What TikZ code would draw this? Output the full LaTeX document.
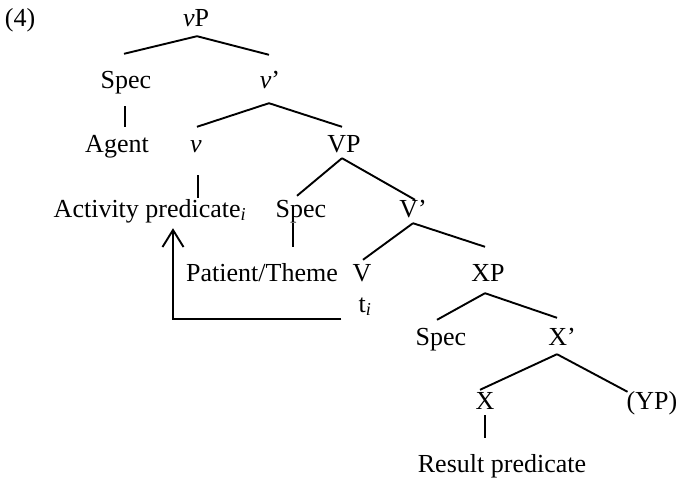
\documentclass[tikz,border=0pt]{standalone}
\usepackage{fontspec}
\setmainfont{Liberation Serif}
\usetikzlibrary{arrows.meta}
\tikzset{treenode/.style={anchor=base, inner sep=0pt, font=\fontsize{26}{30}\selectfont},branch/.style={draw=black, line width=1.9pt}}
\newcommand{\tsub}[1]{\textsubscript{\textit{#1}}}
\begin{document}
\begin{tikzpicture}[
        line join=miter,
        movearrow/.style={draw=black, line width=1.9pt, -{Straight Barb[length=17pt, width=21pt, line width=1.9pt]}}
    ]
        \useasboundingbox (0pt, 0pt) rectangle (679pt, 480pt);
        % Nodes
        \node[treenode] (ex) at (20pt, 453pt) {(4)\strut};
        \node[treenode] (vP) at (196pt, 453pt) {\textit{v}P\strut};
        \node[treenode] (spec1) at (126pt, 391pt) {Spec\strut};
        \node[treenode] (vbar) at (270pt, 391pt) {\textit{v}'\strut};
        \node[treenode] (agent) at (117pt, 327pt) {Agent\strut};
        \node[treenode] (vhead) at (196pt, 327pt) {\textit{v}\strut};
        \node[treenode] (VP) at (344pt, 327pt) {VP\strut};
        \node[treenode] (act) at (150pt, 263pt) {Activity predicate\tsub{i}\strut};
        \node[treenode] (spec2) at (301pt, 263pt) {Spec\strut};
        \node[treenode] (Vbar) at (413pt, 263pt) {V'\strut};
        \node[treenode] (patient) at (262pt, 199pt) {Patient/Theme\strut};
        \node[treenode] (Vhead) at (362pt, 199pt) {V\strut};
        \node[treenode] (XP) at (488pt, 199pt) {XP\strut};
        \node[treenode] (ti) at (365pt, 168pt) {t\tsub{i}\strut};
        \node[treenode] (spec3) at (441pt, 135pt) {Spec\strut};
        \node[treenode] (Xbar) at (562pt, 135pt) {X'\strut};
        \node[treenode] (Xhead) at (485pt, 71pt) {X\strut};
        \node[treenode] (YP) at (652pt, 71pt) {(YP)\strut};
        \node[treenode] (result) at (502pt, 8pt) {Result predicate\strut};
        % Branches
        \draw[branch] ([xshift=1pt]vP.south) -- ([xshift=-2pt, yshift=14pt]spec1.north);
        \draw[branch] ([xshift=1pt]vP.south) -- ([xshift=-1pt, yshift=13pt]vbar.north);
        \draw[branch] ([xshift=-1pt, yshift=-8pt]spec1.south) -- ([xshift=-1pt, yshift=5pt]spec1.south |- agent.north);
        \draw[branch] ([xshift=-1pt, yshift=-5pt]vbar.south) -- ([xshift=1pt, yshift=5pt]vhead.north);
        \draw[branch] ([xshift=-1pt, yshift=-5pt]vbar.south) -- ([xshift=-2pt, yshift=5pt]VP.north);
        \draw[branch] ([xshift=2pt, yshift=-13pt]vhead.south) -- ([xshift=2pt, yshift=-2pt]vhead.south |- act.north);
        \draw[branch] ([xshift=-2pt, yshift=4pt]VP.south) -- ([xshift=-4pt]spec2.north);
        \draw[branch] ([xshift=-2pt, yshift=4pt]VP.south) -- ([xshift=2pt, yshift=-4pt]Vbar.north);
        \draw[branch] ([xshift=-8pt, yshift=3pt]spec2.south) -- ([xshift=-8pt, yshift=13pt]spec2.south |- patient.north);
        \draw[branch] ([yshift=3pt]Vbar.south) -- ([xshift=1pt]Vhead.north);
        \draw[branch] ([yshift=3pt]Vbar.south) -- ([xshift=-3pt, yshift=13pt]XP.north);
        \draw[branch] ([xshift=-3pt, yshift=-3pt]XP.south) -- ([xshift=-4pt, yshift=4pt]spec3.north);
        \draw[branch] ([xshift=-3pt, yshift=-3pt]XP.south) -- ([xshift=-5pt, yshift=6pt]Xbar.north);
        \draw[branch] ([xshift=-5pt]Xbar.south) -- ([xshift=-5pt, yshift=-2pt]Xhead.north);
        \draw[branch] ([xshift=-5pt]Xbar.south) -- ([xshift=1pt, yshift=-4pt]YP.north west);
        \draw[branch] ([yshift=3pt]Xhead.south) -- ([yshift=13pt]Xhead.south |- result.north);
        % Movement
        \draw[movearrow] ([xshift=-17pt, yshift=2pt]ti.south west) -| ([xshift=23pt, yshift=-2pt]act.south);
    \end{tikzpicture}
\end{document}
